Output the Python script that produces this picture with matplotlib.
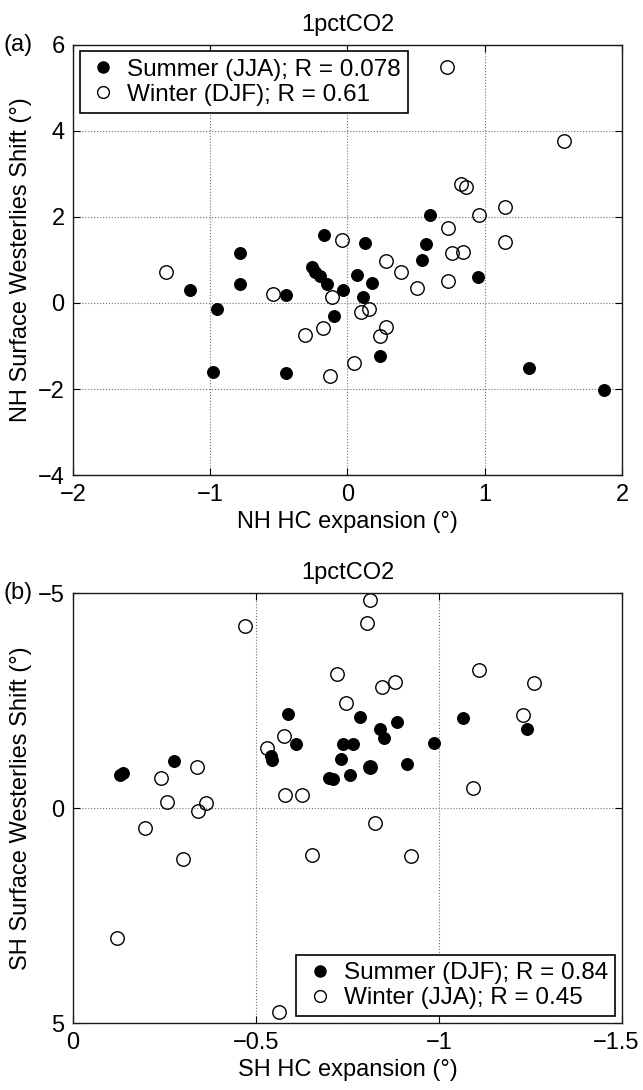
import matplotlib
matplotlib.use("Agg")
import matplotlib.pyplot as plt
import matplotlib.transforms as mtransforms
from matplotlib.lines import Line2D

plt.rcParams['font.family'] = ['Liberation Sans', 'DejaVu Sans']
plt.rcParams['font.size'] = 17

# panel (a): NH
nh_summer_x = [-0.17, -0.78, 0.60, 0.13, 0.57, 0.54, 0.95, 0.07, 0.18, -0.03, 0.11, -0.095,
               0.235, 1.32, 1.87, -1.15, -0.78, -0.95, -0.98, -0.45, -0.26, -0.24, -0.20, -0.15, -0.45]
nh_summer_y = [1.57, 1.16, 2.05, 1.39, 1.38, 0.99, 0.60, 0.66, 0.47, 0.31, 0.13, -0.31,
               -1.24, -1.52, -2.01, 0.31, 0.43, -0.14, -1.60, 0.19, 0.84, 0.71, 0.63, 0.44, -1.62]
nh_winter_x = [0.725, 1.58, 0.83, 0.86, 0.96, 1.15, 0.735, -0.04, 1.15, 0.76, 0.84, 0.28, 0.39,
               0.73, 0.51, -0.115, 0.095, 0.155, 0.28, 0.235, 0.05, -1.32, -0.54, -0.18, -0.31, -0.13]
nh_winter_y = [5.49, 3.76, 2.77, 2.69, 2.05, 2.22, 1.73, 1.47, 1.42, 1.16, 1.19, 0.98, 0.73,
               0.52, 0.35, 0.15, -0.22, -0.13, -0.55, -0.77, -1.40, 0.72, 0.20, -0.59, -0.74, -1.69]
nh_labels = ["Summer (JJA); R = 0.078", "Winter (DJF); R = 0.61"]

# panel (b): SH
sh_summer_x = [-0.587, -0.610, -0.540, -0.545, -0.128, -0.137, -0.276, -0.700, -0.710, -0.785, -0.886,
               -1.240, -1.067, -0.838, -0.850, -0.739, -0.765, -0.987, -0.731, -0.812, -0.912, -0.756]
sh_summer_y = [-2.19, -1.49, -1.22, -1.12, -0.77, -0.81, -1.10, -0.70, -0.68, -2.12, -2.00,
               -1.84, -2.11, -1.85, -1.63, -1.50, -1.50, -1.52, -1.14, -0.96, -1.04, -0.77]
sh_winter_x = [-0.469, -0.577, -0.530, -0.340, -0.240, -0.578, -0.626, -0.811, -0.803, -0.721,
               -1.110, -1.260, -0.880, -0.844, -0.747, -1.230, -0.812, -1.093, -0.258, -0.363,
               -0.342, -0.197, -0.301, -0.120, -0.563, -0.654, -0.826, -0.923]
sh_winter_y = [-4.24, -1.67, -1.40, -0.97, -0.71, -0.31, -0.31, -4.84, -4.30, -3.12,
               -3.21, -2.92, -2.93, -2.83, -2.45, -2.18, -0.96, -0.47, -0.15, -0.13,
               0.06, 0.46, 1.19, 3.01, 4.74, 1.09, 0.35, 1.10]
sh_labels = ["Summer (DJF); R = 0.84", "Winter (JJA); R = 0.45"]

fig = plt.figure(figsize=(6.43, 10.9), dpi=100)
ax1 = fig.add_axes([0.1135, 0.5640, 0.8538, 0.3951])
ax2 = fig.add_axes([0.1135, 0.0612, 0.8538, 0.3945])

ms = 8.5
fs = 17


def style(ax):
    ax.grid(True, linestyle=':', color='0.45', linewidth=0.8)
    ax.tick_params(direction='in', top=True, right=True, length=5, width=0.8,
                   labelsize=fs, pad=6)
    for s in ax.spines.values():
        s.set_linewidth(1.0)
        s.set_color('0.1')
    ax.xaxis.label.set_va('center')
    ax.xaxis.set_label_coords(0.5, -0.108)
    ax.yaxis.label.set_va('center')
    ax.yaxis.set_label_coords(-0.095, 0.5)


def panel(ax, sx, sy, wx, wy, labels, loc):
    ax.plot(sx, sy, 'o', color='black', markersize=ms, markeredgewidth=0.8, linestyle='none')
    ax.plot(wx, wy, 'o', markerfacecolor='none', markeredgecolor='black', markersize=ms + 1.2,
            markeredgewidth=1.0, linestyle='none')
    handles = [Line2D([], [], marker='o', color='black', linestyle='none', markersize=8),
               Line2D([], [], marker='o', markerfacecolor='white', markeredgecolor='black',
                      linestyle='none', markersize=8.5)]
    leg = ax.legend(handles, labels, loc=loc, fontsize=17.5, handlelength=1.35, handletextpad=0.3,
                    borderpad=0.3, labelspacing=0.12, fancybox=False, framealpha=1,
                    borderaxespad=0.28)
    leg.get_frame().set_edgecolor('black')
    leg.get_frame().set_linewidth(1.2)


panel(ax1, nh_summer_x, nh_summer_y, nh_winter_x, nh_winter_y, nh_labels, 'upper left')
ax1.set_xlim(-2, 2)
ax1.set_ylim(-4, 6)
ax1.set_xticks([-2, -1, 0, 1, 2])
ax1.set_yticks([-4, -2, 0, 2, 4, 6])
ax1.set_xlabel("NH HC expansion (°)", fontsize=fs)
ax1.set_ylabel("NH Surface Westerlies Shift (°)", fontsize=fs)
ax1.set_title("1pctCO2", fontsize=fs, pad=10)
style(ax1)

panel(ax2, sh_summer_x, sh_summer_y, sh_winter_x, sh_winter_y, sh_labels, 'lower right')
ax2.set_xlim(0, -1.5)
ax2.set_ylim(5, -5)
ax2.set_xticks([0, -0.5, -1, -1.5])
ax2.set_xticklabels(['0', '\u22120.5', '\u22121', '\u22121.5'])
ax2.set_yticks([-5, 0, 5])
ax2.set_xlabel("SH HC expansion (°)", fontsize=fs)
ax2.set_ylabel("SH Surface Westerlies Shift (°)", fontsize=fs)
ax2.set_title("1pctCO2", fontsize=fs, pad=10)
style(ax2)

# keep the last tick label inside the figure edge
last = ax2.get_xticklabels()[-1]
last.set_transform(last.get_transform() + mtransforms.ScaledTranslation(-6 / 100, 0, fig.dpi_scale_trans))

fig.text(0.006, 0.9591, "(a)", fontsize=fs, va='center', ha='left')
fig.text(0.006, 0.4557, "(b)", fontsize=fs, va='center', ha='left')

fig.savefig("out.png", dpi=100)
